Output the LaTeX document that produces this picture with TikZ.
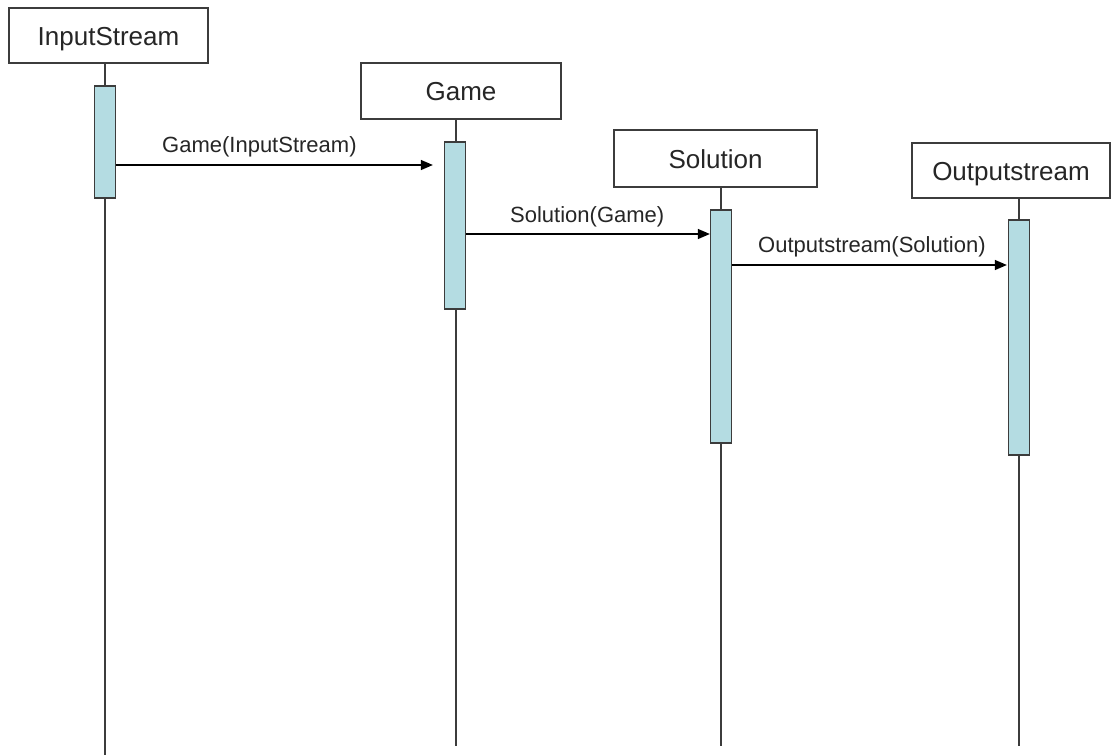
\documentclass[tikz,border=0pt]{standalone}
\usepackage{fontspec}
\setmainfont{Liberation Sans}
\usetikzlibrary{arrows.meta}
\definecolor{actfill}{RGB}{180,220,226}
\definecolor{linegray}{RGB}{60,60,60}
\begin{document}
\begin{tikzpicture}[x=1pt,y=-1pt,
 obj/.style={draw=linegray,line width=1.5pt,fill=white,inner sep=0pt,text height=19pt,text depth=0pt,font=\fontsize{26}{30}\selectfont,text=black!85},
 act/.style={draw=linegray,line width=1.3pt,fill=actfill,minimum width=21pt,inner sep=0pt},
 life/.style={draw=linegray,line width=1.3pt},
 msg/.style={draw=black,line width=1.3pt,-{Triangle[length=12pt,width=10pt]}},
 lbl/.style={font=\fontsize{22}{26}\selectfont,anchor=base west,inner sep=0pt,text=black!85}]
\useasboundingbox (0,0) rectangle (1112,755);
\fill[white] (0,0) rectangle (1112,755);

% object boxes
\node[obj,minimum width=199pt,minimum height=55pt] (I) at (108.5,35.5) {InputStream};
\node[obj,minimum width=200pt,minimum height=56pt] (G) at (461,91) {Game};
\node[obj,minimum width=203pt,minimum height=57pt] (S) at (715.5,158.5) {Solution};
\node[obj,minimum width=198pt,minimum height=55pt] (O) at (1011,170.5) {Outputstream};

% lifeline ends
\coordinate (eI) at (105,755);
\coordinate (eG) at (456,746);
\coordinate (eS) at (721,746);
\coordinate (eO) at (1019,746);
\draw[life] (I.south -| eI) -- (eI);
\draw[life] (G.south -| eG) -- (eG);
\draw[life] (S.south -| eS) -- (eS);
\draw[life] (O.south -| eO) -- (eO);

% activation bars
\node[act,minimum height=112pt] (aI) at (105,142) {};
\node[act,minimum height=167pt] (aG) at (455,225.5) {};
\node[act,minimum height=233pt] (aS) at (721,326.5) {};
\node[act,minimum height=235pt] (aO) at (1019,337.5) {};

% messages
\coordinate (m1) at (0,165);
\coordinate (m2) at (0,234);
\coordinate (m3) at (0,265);
\draw[msg,shorten >=11pt] (aI.east |- m1) -- (aG.west |- m1);
\draw[msg] (aG.east |- m2) -- (aS.west |- m2);
\draw[msg,shorten >=1pt] (aS.east |- m3) -- (aO.west |- m3);

\node[lbl] (l1) at (162,152) {Game(InputStream)};
\node[lbl] (l2) at (510,222) {Solution(Game)};
\node[lbl] (l3) at (758,252) {Outputstream(Solution)};
\end{tikzpicture}
\end{document}
